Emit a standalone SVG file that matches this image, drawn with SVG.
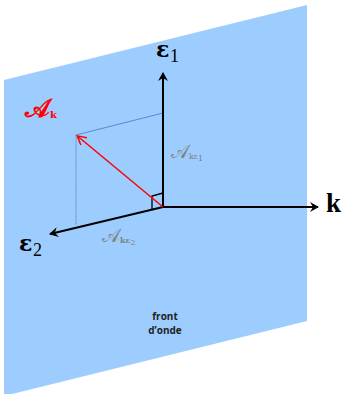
<svg xmlns="http://www.w3.org/2000/svg" width="345" height="394" viewBox="0 0 345 394">
<defs>
<style>
.ax{stroke:#000;stroke-width:2;fill:none}
.dot{stroke:#4f74c8;stroke-width:0.8;fill:none}
.bold{font-family:"DejaVu Serif",serif;font-weight:bold;fill:#000}
.sub{font-family:"Liberation Serif",serif;fill:#000}
.gr{font-family:"DejaVu Serif","Liberation Serif",serif;fill:#808080}
.fr{font-family:"Open Sans","Liberation Sans",sans-serif;font-weight:bold;font-size:10px;fill:#222;text-anchor:middle}
</style>
<marker id="ah" markerWidth="10" markerHeight="10" refX="8" refY="5" orient="auto" markerUnits="userSpaceOnUse">
<path d="M0,0 L9,5 L0,10 L3,5 Z" fill="#000"/>
</marker>
<marker id="ahr" markerWidth="10" markerHeight="10" refX="8" refY="5" orient="auto" markerUnits="userSpaceOnUse">
<path d="M0,0 L9,5 L0,10" fill="none" stroke="#f00" stroke-width="1.5"/>
</marker>
</defs>
<g id="plane">
<polygon points="4,80 307,5 307,321 4,396" fill="#9ccdfe"/>
<text class="fr" x="165" y="320">front</text>
<text class="fr" x="165" y="334">d’onde</text>
</g>
<g id="connectors">
<line class="dot" x1="76" y1="135" x2="163" y2="113"/>
<line class="dot" x1="76" y1="135" x2="76" y2="225" stroke-dasharray="1.5,0.8"/>
<line class="ax" x1="163" y1="207" x2="163" y2="73" marker-end="url(#ah)"/>
<line class="ax" x1="163" y1="207" x2="318" y2="207" marker-end="url(#ah)"/>
<line class="ax" x1="163" y1="207" x2="50" y2="234" marker-end="url(#ah)"/>
<polyline points="163,193 152,196 152,210" fill="none" stroke="#000" stroke-width="1.3"/>
<line x1="163" y1="207" x2="78" y2="136.5" stroke="#f00" stroke-width="1.5" marker-end="url(#ahr)"/>
</g>
<g id="e1">
<text class="bold" x="156" y="57" font-size="22">ε</text>
<text class="sub" x="170" y="62" font-size="18">1</text>
</g>
<g id="k">
<text x="326" y="212" font-family="Liberation Serif,serif" font-weight="bold" font-size="27" fill="#000">k</text>
</g>
<g id="e2">
<text class="bold" x="19" y="251" font-size="22">ε</text>
<text class="sub" x="33" y="256" font-size="18">2</text>
</g>
<g id="Ak">
<text x="25" y="117" font-family="DejaVu Serif,serif" font-weight="bold" font-size="26" fill="#f00">𝒜<tspan font-size="10" dy="1">k</tspan></text>
</g>
<g id="Ake1">
<text class="gr" x="171" y="158" font-size="19">𝒜<tspan font-size="8" dy="1">kε</tspan><tspan font-size="8" dy="2">1</tspan></text>
</g>
<g id="Ake2">
<text class="gr" x="102" y="242" font-size="19">𝒜<tspan font-size="8" dy="1" font-weight="bold">kε</tspan><tspan font-size="8" dy="2">2</tspan></text>
</g>
</svg>
